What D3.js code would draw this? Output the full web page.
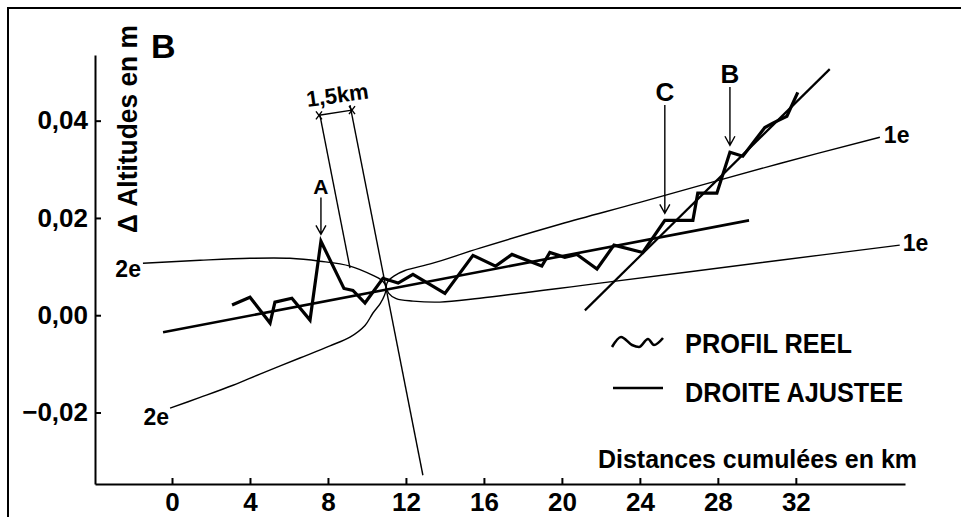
<!DOCTYPE html>
<html>
<head>
<meta charset="utf-8">
<script src="https://cdn.jsdelivr.net/npm/d3@7"></script>
<style>
body { margin: 0; background: #fff; }
text { font-family: "Liberation Sans", Arial, Helvetica, sans-serif; font-weight: bold; fill: #000; }
.thin { fill: none; stroke: #000; stroke-width: 1.4; }
</style>
</head>
<body>
<script>
var WIDTH = 961;
var HEIGHT = 517;

// profil reel : distance cumulee (km) / delta altitude (m)
var profileKm  = [3.08, 4.0, 5.03, 5.28, 6.15, 7.08, 7.64, 8.82, 9.28, 9.9, 10.82, 11.6, 12.36, 14.0,
                  15.44, 16.6, 17.44, 18.97, 19.38, 20.15, 20.77, 21.8, 22.67, 24.15, 25.28, 26.72,
                  26.97, 27.95, 28.62, 29.28, 30.41, 30.82, 31.54, 32.1];
var profileAlt = [0.0021, 0.0037, -0.0016, 0.0027, 0.0035, -0.0010, 0.0152, 0.0055, 0.0051, 0.0025,
                  0.0076, 0.0066, 0.0084, 0.0045, 0.0123, 0.0101, 0.0125, 0.0101, 0.0129, 0.0119,
                  0.0125, 0.0095, 0.0144, 0.0129, 0.0195, 0.0195, 0.0251, 0.0251, 0.0335, 0.0327,
                  0.0386, 0.0395, 0.0409, 0.0458];

// droites ajustees
var fitKm = [-0.46, 29.6];
var fitAlt = [-0.0035, 0.0195];
var steepKm = [21.18, 33.74];
var steepAlt = [0.001, 0.0506];

// bandes 1e (branche haute puis basse) et 2e
var band1eKm  = [36.31, 31.18, 24.0, 19.9, 15.79, 13.38, 11.95, 11.4, 11.1, 10.99, 11.12, 11.5, 12.36, 13.74, 15.79, 21.95, 31.18, 37.33];
var band1eAlt = [0.0366, 0.0312, 0.0232, 0.0187, 0.0138, 0.0107, 0.0092, 0.0081, 0.0071, 0.0059, 0.0045, 0.0034, 0.0029, 0.0027, 0.0035, 0.0066, 0.0113, 0.0144];
var band2eKm  = [-1.49, 1.44, 4.0, 6.05, 7.59, 9.13, 10.31, 10.72, 10.93, 10.98, 10.9, 10.68, 10.3, 9.9, 9.13, 8.1, 6.56, 4.51, 3.13, 1.44, -0.1];
var band2eAlt = [0.0107, 0.0113, 0.0117, 0.0117, 0.0111, 0.0101, 0.0082, 0.0073, 0.0064, 0.0054, 0.0041, 0.0024, 0.0004, -0.0021, -0.0045, -0.0063, -0.0088, -0.0121, -0.0144, -0.0169, -0.0191];

// deux droites de l'intervalle 1,5 km
var guideKm  = [[7.59, 9.13], [9.13, 12.87]];
var guideAlt = [[0.0411, 0.0097], [0.0432, -0.0329]];

var xTicks = [0, 4, 8, 12, 16, 20, 24, 28, 32];
var yTicks = [-0.02, 0, 0.02, 0.04];
var yTickLabels = ['\u22120,02', '0,00', '0,02', '0,04'];

// reperes A, C, B : indice du point du profil, haut de la fleche (m)
var markLabels = ['A', 'C', 'B'];
var markIndex = [6, 24, 28];
var markTop = [0.0242, 0.0432, 0.0469];

var x = d3.scaleLinear().domain([-3.95, 37.6]).range([95, 905]);
var y = d3.scaleLinear().domain([-0.0347, 0.0535]).range([484, 55]);

var svg = d3.select('body').append('svg')
    .attr('width', WIDTH)
    .attr('height', HEIGHT);

// cadre
svg.append('path')
    .attr('d', 'M8,517 L8,8 L961,8')
    .attr('fill', 'none')
    .attr('stroke', '#000')
    .attr('stroke-width', 2);

var line = d3.line()
    .x(function (d) { return x(d[0]); })
    .y(function (d) { return y(d[1]); });

var smooth = d3.line()
    .x(function (d) { return x(d[0]); })
    .y(function (d) { return y(d[1]); })
    .curve(d3.curveCatmullRom.alpha(0.5));

// axes
var yAxis = d3.axisLeft(y)
    .tickValues(yTicks)
    .tickFormat(function (d, i) { return yTickLabels[i]; })
    .tickSize(-6)
    .tickSizeOuter(0)
    .tickPadding(7);

var xAxis = d3.axisBottom(x)
    .tickValues(xTicks)
    .tickFormat(d3.format('d'))
    .tickSize(-6)
    .tickSizeOuter(0)
    .tickPadding(9);

var gy = svg.append('g').attr('transform', 'translate(' + x.range()[0] + ',0)').call(yAxis);
var gx = svg.append('g').attr('transform', 'translate(0,' + y.range()[0] + ')').call(xAxis);

[gx, gy].forEach(function (g) {
    g.select('.domain').attr('stroke-width', 2);
    g.selectAll('.tick line').attr('stroke-width', 2);
    g.selectAll('.tick text')
        .attr('font-family', null)
        .style('font-size', '26px');
});

svg.append('text')
    .attr('transform', 'translate(137,129) rotate(-90)')
    .attr('text-anchor', 'middle')
    .attr('textLength', 208)
    .attr('lengthAdjust', 'spacingAndGlyphs')
    .style('font-size', '27px')
    .text('\u0394 Altitudes en m');

svg.append('text')
    .attr('x', 598)
    .attr('y', 468)
    .attr('textLength', 319)
    .attr('lengthAdjust', 'spacingAndGlyphs')
    .style('font-size', '26px')
    .text('Distances cumul\u00e9es en km');

svg.append('text')
    .attr('x', 151)
    .attr('y', 58)
    .style('font-size', '34px')
    .text('B');

// bandes de confiance
svg.append('path')
    .attr('class', 'thin')
    .attr('d', smooth(d3.zip(band1eKm, band1eAlt)));

svg.append('path')
    .attr('class', 'thin')
    .attr('d', smooth(d3.zip(band2eKm, band2eAlt)));

var bandLabels = [
    { t: '1e', p: [band1eKm[0], band1eAlt[0]], dx: 4, dy: 6, anchor: 'start' },
    { t: '1e', p: [band1eKm[band1eKm.length - 1], band1eAlt[band1eAlt.length - 1]], dx: 3, dy: 6, anchor: 'start' },
    { t: '2e', p: [band2eKm[0], band2eAlt[0]], dx: -2, dy: 14, anchor: 'end' },
    { t: '2e', p: [band2eKm[band2eKm.length - 1], band2eAlt[band2eAlt.length - 1]], dx: -1, dy: 17, anchor: 'end' }
];

svg.selectAll('.band-label')
    .data(bandLabels)
    .enter()
    .append('text')
    .attr('class', 'band-label')
    .attr('x', function (d) { return x(d.p[0]) + d.dx; })
    .attr('y', function (d) { return y(d.p[1]) + d.dy; })
    .attr('text-anchor', function (d) { return d.anchor; })
    .style('font-size', '23px')
    .text(function (d) { return d.t; });

// droites de l'intervalle 1,5 km
svg.selectAll('.guide')
    .data(d3.range(guideKm.length))
    .enter()
    .append('path')
    .attr('class', 'thin')
    .attr('d', function (i) { return line(d3.zip(guideKm[i], guideAlt[i])); });

var dimA = [x(guideKm[0][0]) - 1, y(guideAlt[0][0])];
var dimB = [x(guideKm[1][0]) + 2, y(guideAlt[1][0]) + 5];
svg.append('path')
    .attr('class', 'thin')
    .attr('d', 'M' + dimA + 'L' + dimB);

[dimA, dimB].forEach(function (p) {
    svg.append('path')
        .attr('class', 'thin')
        .attr('stroke-width', 1.6)
        .attr('d', 'M' + (p[0] - 3) + ',' + (p[1] - 4) + 'L' + (p[0] + 3) + ',' + (p[1] + 4) +
                   'M' + (p[0] + 3) + ',' + (p[1] - 4) + 'L' + (p[0] - 3) + ',' + (p[1] + 4));
});

svg.append('text')
    .attr('transform', 'translate(' + ((dimA[0] + dimB[0]) / 2 + 3) + ',' + ((dimA[1] + dimB[1]) / 2 - 10) + ') rotate(-8)')
    .attr('text-anchor', 'middle')
    .style('font-size', '22px')
    .text('1,5km');

// droites ajustees
svg.append('path')
    .attr('fill', 'none')
    .attr('stroke', '#000')
    .attr('stroke-width', 2.6)
    .attr('d', line(d3.zip(fitKm, fitAlt)));

svg.append('path')
    .attr('fill', 'none')
    .attr('stroke', '#000')
    .attr('stroke-width', 2.2)
    .attr('d', line(d3.zip(steepKm, steepAlt)));

// profil reel
svg.append('path')
    .attr('fill', 'none')
    .attr('stroke', '#000')
    .attr('stroke-width', 3.2)
    .attr('stroke-linejoin', 'miter')
    .attr('d', line(d3.zip(profileKm, profileAlt)));

// reperes A, C, B
var marks = svg.selectAll('.mark')
    .data(d3.range(markLabels.length))
    .enter()
    .append('g')
    .attr('class', 'mark');

marks.append('path')
    .attr('class', 'thin')
    .attr('stroke-width', 1.6)
    .attr('d', function (i) {
        var px = x(profileKm[markIndex[i]]);
        var tip = y(profileAlt[markIndex[i]]) - 7;
        return 'M' + px + ',' + y(markTop[i]) + 'L' + px + ',' + tip +
               'M' + (px - 5) + ',' + (tip - 9) + 'L' + px + ',' + tip + 'L' + (px + 5) + ',' + (tip - 9);
    });

marks.append('text')
    .attr('x', function (i) { return x(profileKm[markIndex[i]]); })
    .attr('y', function (i) { return y(markTop[i]) - 4; })
    .attr('text-anchor', 'middle')
    .style('font-size', function (i) { return i === 0 ? '21px' : '26px'; })
    .text(function (i) { return markLabels[i]; });

// legende
var legend = svg.append('g').attr('transform', 'translate(612,342)');
var waveGlyph = [[0, 5], [9, -5], [20, 3], [27, 5], [36, -3], [42, 3], [51, -4]];

legend.append('path')
    .attr('fill', 'none')
    .attr('stroke', '#000')
    .attr('stroke-width', 2.6)
    .attr('d', d3.line().curve(d3.curveMonotoneX)(waveGlyph));

legend.append('path')
    .attr('fill', 'none')
    .attr('stroke', '#000')
    .attr('stroke-width', 2.4)
    .attr('d', 'M1,46 L51,46');

legend.append('text')
    .attr('x', 73)
    .attr('y', 11)
    .style('font-size', '28px')
    .attr('textLength', 167)
    .attr('lengthAdjust', 'spacingAndGlyphs')
    .text('PROFIL REEL');

legend.append('text')
    .attr('x', 73)
    .attr('y', 60)
    .style('font-size', '28px')
    .attr('textLength', 218)
    .attr('lengthAdjust', 'spacingAndGlyphs')
    .text('DROITE AJUSTEE');
</script>
</body>
</html>
